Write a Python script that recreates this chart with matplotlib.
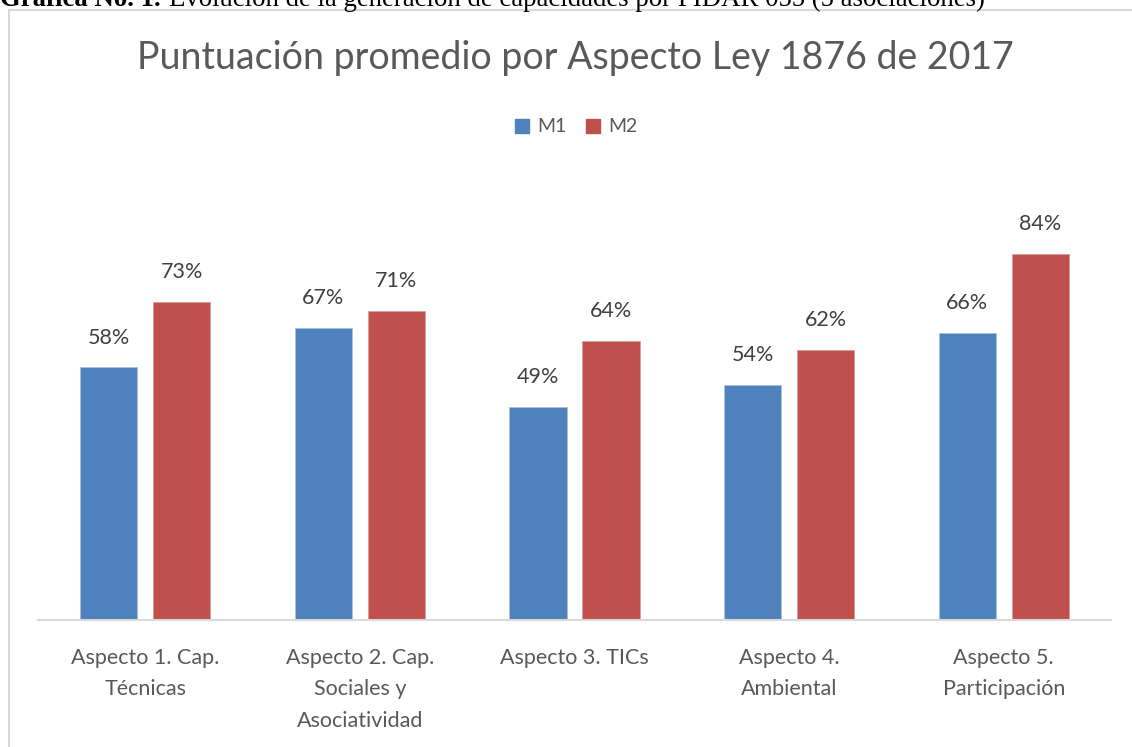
import matplotlib
matplotlib.use("Agg")
import matplotlib.pyplot as plt
from matplotlib.patches import Rectangle, Patch
import numpy as np

categories = ["Aspecto 1. Cap.\nTécnicas", "Aspecto 2. Cap.\nSociales y\nAsociatividad",
              "Aspecto 3. TICs", "Aspecto 4.\nAmbiental", "Aspecto 5.\nParticipación"]
m1 = [0.58, 0.67, 0.49, 0.54, 0.66]
m2 = [0.73, 0.71, 0.64, 0.62, 0.84]
series_names = ["M1", "M2"]
title = "Puntuación promedio por Aspecto Ley 1876 de 2017"

plt.rcParams['font.family'] = ['Lato', 'DejaVu Sans']
W, H = 1132, 747
fig = plt.figure(figsize=(W/100, H/100), dpi=100)

# outer chart frame (extends beyond figure edges)
frame = Rectangle((9/W, -0.1), 1.2, 1 - 10/H + 0.1, transform=fig.transFigure,
                  facecolor='none', edgecolor='#d9d9d9', linewidth=1.5, zorder=-1)
fig.patches.append(frame)

# caption (clipped at the top in the reference)
t1 = fig.text(0.0, 1 - 6/H, "Gráfica No. 1.", family='Liberation Serif', fontweight='bold',
              fontsize=19.3, va='baseline', ha='left', color='black')
fig.canvas.draw()
bb = t1.get_window_extent()
fig.text((bb.x1 + 8)/W, 1 - 6/H,
         "Evolución de la generación de capacidades por PIDAR 055 (5 asociaciones)",
         family='Liberation Serif', fontsize=19.3, va='baseline', ha='left', color='black')

ax = fig.add_axes([38/W, (H-620)/H, 1073/W, 392/H])
ax.patch.set_alpha(0)
x = np.arange(len(categories))
bw = 0.266
off = 0.17
c1, c2 = '#4F81BD', '#C0504D'
b1 = ax.bar(x - off, m1, bw, color=c1, edgecolor='#a9c0de', linewidth=0.6, zorder=2)
b2 = ax.bar(x + off, m2, bw, color=c2, edgecolor='#dc9a98', linewidth=0.6, zorder=2)
ax.set_xlim(-0.5, len(categories) - 0.5)
ax.set_ylim(0, 0.9)

for bars in (b1, b2):
    for r in bars:
        v = r.get_height()
        ax.annotate(f"{v*100:.0f}%", (r.get_x() + r.get_width()/2, v), xytext=(0, 21.5),
                    textcoords='offset points', ha='center', va='center',
                    fontsize=15.5, color='#404040')

for s in ['top', 'right', 'left']:
    ax.spines[s].set_visible(False)
ax.spines['bottom'].set_color('#d9d9d9')
ax.spines['bottom'].set_linewidth(1.5)
ax.set_yticks([])
ax.set_xticks(x)
ax.set_xticklabels(categories, fontsize=15.5, color='#595959', linespacing=1.72)
ax.tick_params(axis='x', length=0, pad=20)

fig.text(575/W, 1 - 58/H, title, ha='center', va='center', fontsize=27, color='#595959')

handles = [Patch(color=c1, label=series_names[0]), Patch(color=c2, label=series_names[1])]
fig.legend(handles=handles, loc='center', bbox_to_anchor=(576/W, 1 - 127/H), ncol=2,
           frameon=False, fontsize=14, handlelength=0.75, handleheight=0.75,
           handletextpad=0.4, columnspacing=1.0, labelcolor='#595959')

fig.savefig("out.png", dpi=100)
